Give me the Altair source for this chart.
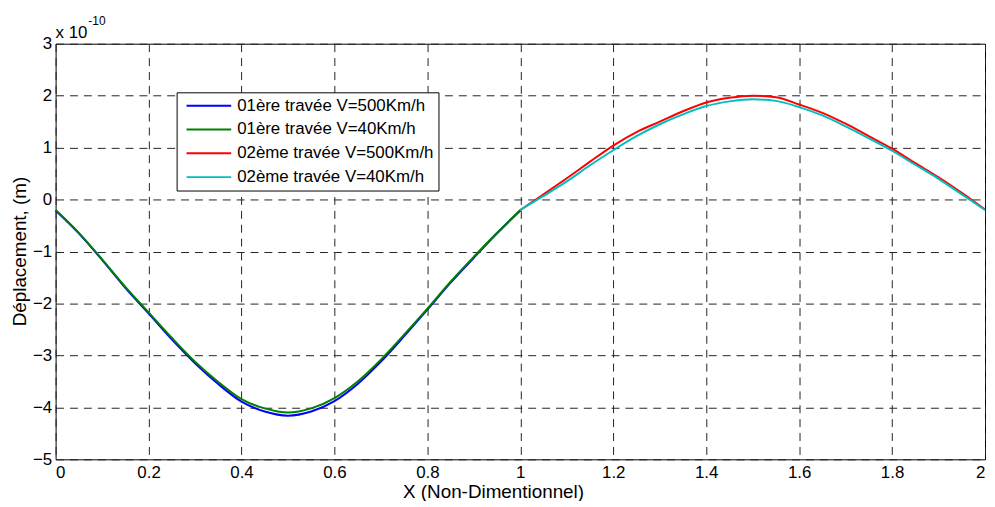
import altair as alt
import pandas as pd

FONT = "Liberation Sans"

x_span1 = [0.0, 0.05, 0.1, 0.15, 0.2, 0.25, 0.3, 0.35, 0.4, 0.45, 0.5,
           0.55, 0.6, 0.65, 0.7, 0.75, 0.8, 0.85, 0.9, 0.95, 1.0]
x_span2 = [1.0, 1.05, 1.1, 1.15, 1.2, 1.25, 1.3, 1.35, 1.4, 1.45, 1.5,
           1.55, 1.6, 1.65, 1.7, 1.75, 1.8, 1.85, 1.9, 1.95, 2.0]

# values in units of 1e-10 m
span1_v500 = [-0.21, -0.65, -1.16, -1.70, -2.19, -2.69, -3.15, -3.55, -3.89, -4.08, -4.16,
              -4.08, -3.88, -3.55, -3.12, -2.63, -2.12, -1.60, -1.12, -0.65, -0.21]
span1_v40 = [-0.20, -0.64, -1.15, -1.68, -2.17, -2.66, -3.12, -3.51, -3.84, -4.02, -4.10,
             -4.02, -3.82, -3.50, -3.08, -2.60, -2.10, -1.58, -1.10, -0.64, -0.20]
span2_v500 = [-0.20, 0.10, 0.41, 0.73, 1.04, 1.30, 1.50, 1.70, 1.87, 1.96, 2.00,
              1.97, 1.83, 1.67, 1.46, 1.22, 0.98, 0.70, 0.43, 0.13, -0.19]
span2_v40 = [-0.20, 0.07, 0.35, 0.66, 0.95, 1.22, 1.45, 1.64, 1.80, 1.89, 1.93,
             1.90, 1.78, 1.62, 1.41, 1.18, 0.94, 0.67, 0.40, 0.10, -0.20]

names = ["01ère travée V=500Km/h", "01ère travée V=40Km/h",
         "02ème travée V=500Km/h", "02ème travée V=40Km/h"]
colors = ["#0000FF", "#008000", "#FF0000", "#00BFBF"]

x_ticks = [0, 0.2, 0.4, 0.6, 0.8, 1.0, 1.2, 1.4, 1.6, 1.8, 2.0]
y_ticks = [-5, -4, -3, -2, -1, 0, 1, 2, 3]

rows = []
for k, (name, xs, ys) in enumerate([(names[0], x_span1, span1_v500),
                                    (names[1], x_span1, span1_v40),
                                    (names[2], x_span2, span2_v500),
                                    (names[3], x_span2, span2_v40)]):
    for i, (a, b) in enumerate(zip(xs, ys)):
        rows.append({"x": a, "y": b, "serie": name, "idx": i, "k": k})
df = pd.DataFrame(rows)

lines = alt.Chart(df).mark_line(strokeWidth=2, interpolate="monotone").encode(
    x=alt.X("x:Q", scale=alt.Scale(domain=[0, 2], nice=False, zero=False),
            axis=alt.Axis(values=x_ticks, format="~g", title="X (Non-Dimentionnel)",
                          titleX=441, titleY=38, titleAlign="center",
                          titleBaseline="alphabetic", labelPadding=5)),
    y=alt.Y("y:Q", scale=alt.Scale(domain=[-5, 3], nice=False, zero=False),
            axis=alt.Axis(values=y_ticks, format="~g", title="Déplacement, (m)",
                          titleX=-36, titleY=209, titleAngle=-90, titleAlign="center",
                          titleBaseline="middle", labelPadding=4)),
    color=alt.Color("serie:N", scale=alt.Scale(domain=names, range=colors),
                    legend=alt.Legend(title=None, orient="none", legendX=122, legendY=49,
                                      fillColor="white", strokeColor="black",
                                      padding=5, symbolOffset=4, symbolType="stroke",
                                      symbolSize=2025, symbolStrokeWidth=2,
                                      labelFont=FONT, labelFontSize=17, labelColor="black",
                                      labelLimit=400, clipHeight=17, rowPadding=6,
                                      labelOffset=5)),
    order="idx:Q",
)

exp_df = pd.DataFrame({"t": ["x 10"]})
exp_base = alt.Chart(exp_df).mark_text(align="left", baseline="alphabetic",
                                       fontSize=17, font=FONT, color="black").encode(
    text="t:N", x=alt.value(0), y=alt.value(-6))
sup_df = pd.DataFrame({"t": ["-10"]})
exp_sup = alt.Chart(sup_df).mark_text(align="left", baseline="alphabetic",
                                      fontSize=12, font=FONT, color="black").encode(
    text="t:N", x=alt.value(33), y=alt.value(-19))

chart = alt.layer(lines, exp_base, exp_sup).properties(
    width=937, height=419,
    autosize=alt.AutoSizeParams(type="none"),
    padding={"left": 48, "top": 34, "right": 2, "bottom": 40},
    background="white",
).configure_axis(
    labelFont=FONT, labelFontSize=17, labelColor="black",
    titleFont=FONT, titleFontSize=19, titleColor="black", titleFontWeight="normal",
    grid=True, gridColor="#222222", gridDash=[8, 6], gridWidth=1, gridOpacity=1,
    ticks=False, domain=False,
).configure_view(stroke="black", strokeWidth=1)

chart.save("out.html", embed_options={"renderer": "svg", "actions": False})
